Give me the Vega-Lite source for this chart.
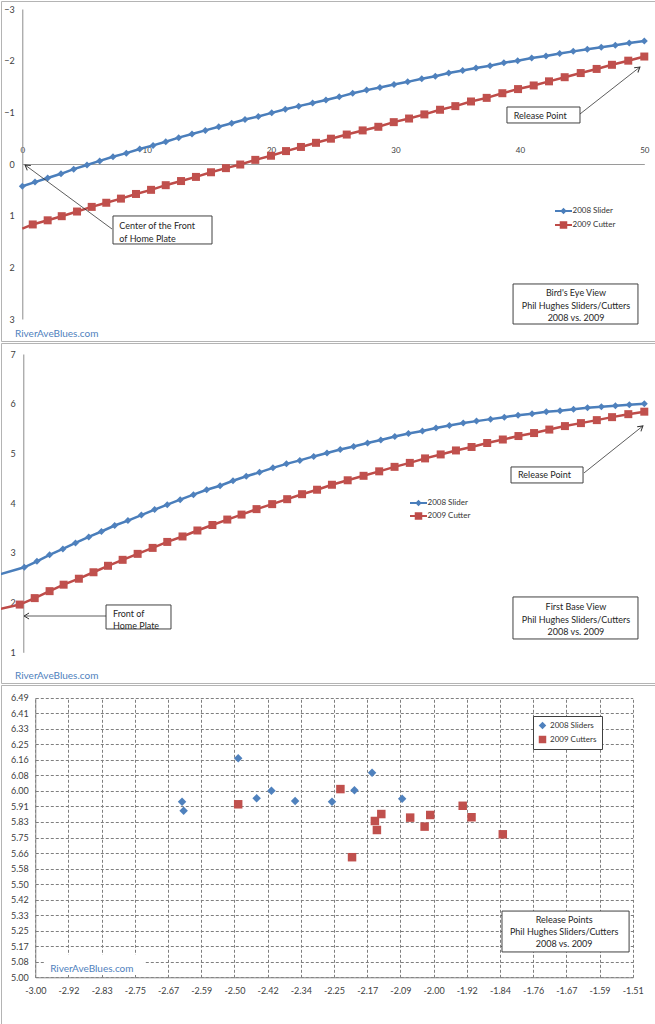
{
  "$schema": "https://vega.github.io/schema/vega-lite/v6.json",
  "background": "white",
  "padding": 0,
  "spacing": 0,
  "config": {
    "font": "Lato",
    "view": {"stroke": "#b4b4b4", "strokeWidth": 1},
    "axis": {"labelFont": "Lato", "labelFontSize": 9, "labelColor": "#404040", "domainColor": "#8c8c8c", "domainWidth": 1, "ticks": false, "tickSize": 0, "labelFlush": false, "labelOverlap": false, "grid": false},
    "legend": {"labelFont": "Lato", "labelFontSize": 8, "labelColor": "#333333", "labelLimit": 300},
    "text": {"font": "Lato"}
  },
  "resolve": {
    "scale": {"x": "independent", "y": "independent", "color": "independent", "shape": "independent"},
    "legend": {"color": "independent", "shape": "independent"}
  },
  "datasets": {
    "t1": [
      {"s":"2008 Slider","x":0,"y":0.43},{"s":"2008 Slider","x":1.02,"y":0.35},{"s":"2008 Slider","x":2.04,"y":0.27},{"s":"2008 Slider","x":3.11,"y":0.19},{"s":"2008 Slider","x":4.13,"y":0.1},{"s":"2008 Slider","x":5.2,"y":0.02},{"s":"2008 Slider","x":6.22,"y":-0.06},{"s":"2008 Slider","x":7.29,"y":-0.14},{"s":"2008 Slider","x":8.36,"y":-0.21},{"s":"2008 Slider","x":9.44,"y":-0.29},{"s":"2008 Slider","x":10.51,"y":-0.36},{"s":"2008 Slider","x":11.53,"y":-0.43},{"s":"2008 Slider","x":12.57,"y":-0.51},{"s":"2008 Slider","x":13.64,"y":-0.58},{"s":"2008 Slider","x":14.71,"y":-0.65},{"s":"2008 Slider","x":15.79,"y":-0.72},{"s":"2008 Slider","x":16.83,"y":-0.79},{"s":"2008 Slider","x":17.9,"y":-0.86},{"s":"2008 Slider","x":18.97,"y":-0.92},{"s":"2008 Slider","x":20.05,"y":-0.99},{"s":"2008 Slider","x":21.14,"y":-1.06},{"s":"2008 Slider","x":22.22,"y":-1.12},{"s":"2008 Slider","x":23.34,"y":-1.18},{"s":"2008 Slider","x":24.41,"y":-1.24},{"s":"2008 Slider","x":25.48,"y":-1.3},{"s":"2008 Slider","x":26.56,"y":-1.37},{"s":"2008 Slider","x":27.68,"y":-1.43},{"s":"2008 Slider","x":28.75,"y":-1.48},{"s":"2008 Slider","x":29.88,"y":-1.54},{"s":"2008 Slider","x":30.98,"y":-1.59},{"s":"2008 Slider","x":32.11,"y":-1.65},{"s":"2008 Slider","x":33.2,"y":-1.7},{"s":"2008 Slider","x":34.28,"y":-1.76},{"s":"2008 Slider","x":35.4,"y":-1.81},{"s":"2008 Slider","x":36.47,"y":-1.86},{"s":"2008 Slider","x":37.6,"y":-1.9},{"s":"2008 Slider","x":38.71,"y":-1.96},{"s":"2008 Slider","x":39.82,"y":-2.0},{"s":"2008 Slider","x":40.95,"y":-2.05},{"s":"2008 Slider","x":42.1,"y":-2.09},{"s":"2008 Slider","x":43.2,"y":-2.14},{"s":"2008 Slider","x":44.29,"y":-2.18},{"s":"2008 Slider","x":45.42,"y":-2.22},{"s":"2008 Slider","x":46.54,"y":-2.26},{"s":"2008 Slider","x":47.67,"y":-2.3},{"s":"2008 Slider","x":48.79,"y":-2.34},{"s":"2008 Slider","x":50,"y":-2.38},
      {"s":"2009 Cutter","x":-0.37,"y":1.25},{"s":"2009 Cutter","x":0.84,"y":1.17},{"s":"2009 Cutter","x":2.04,"y":1.09},{"s":"2009 Cutter","x":3.17,"y":1.01},{"s":"2009 Cutter","x":4.4,"y":0.92},{"s":"2009 Cutter","x":5.58,"y":0.83},{"s":"2009 Cutter","x":6.75,"y":0.75},{"s":"2009 Cutter","x":7.93,"y":0.67},{"s":"2009 Cutter","x":9.14,"y":0.58},{"s":"2009 Cutter","x":10.35,"y":0.5},{"s":"2009 Cutter","x":11.53,"y":0.41},{"s":"2009 Cutter","x":12.76,"y":0.33},{"s":"2009 Cutter","x":13.96,"y":0.25},{"s":"2009 Cutter","x":15.17,"y":0.16},{"s":"2009 Cutter","x":16.37,"y":0.08},{"s":"2009 Cutter","x":17.52,"y":0.01},{"s":"2009 Cutter","x":18.73,"y":-0.08},{"s":"2009 Cutter","x":19.99,"y":-0.16},{"s":"2009 Cutter","x":21.2,"y":-0.25},{"s":"2009 Cutter","x":22.4,"y":-0.33},{"s":"2009 Cutter","x":23.61,"y":-0.41},{"s":"2009 Cutter","x":24.81,"y":-0.49},{"s":"2009 Cutter","x":26.08,"y":-0.57},{"s":"2009 Cutter","x":27.36,"y":-0.65},{"s":"2009 Cutter","x":28.62,"y":-0.72},{"s":"2009 Cutter","x":29.86,"y":-0.81},{"s":"2009 Cutter","x":31.09,"y":-0.88},{"s":"2009 Cutter","x":32.32,"y":-0.96},{"s":"2009 Cutter","x":33.58,"y":-1.05},{"s":"2009 Cutter","x":34.81,"y":-1.12},{"s":"2009 Cutter","x":36.07,"y":-1.21},{"s":"2009 Cutter","x":37.33,"y":-1.28},{"s":"2009 Cutter","x":38.59,"y":-1.37},{"s":"2009 Cutter","x":39.85,"y":-1.45},{"s":"2009 Cutter","x":41.11,"y":-1.52},{"s":"2009 Cutter","x":42.34,"y":-1.6},{"s":"2009 Cutter","x":43.6,"y":-1.68},{"s":"2009 Cutter","x":44.89,"y":-1.76},{"s":"2009 Cutter","x":46.17,"y":-1.84},{"s":"2009 Cutter","x":47.4,"y":-1.92},{"s":"2009 Cutter","x":48.71,"y":-2.0},{"s":"2009 Cutter","x":50,"y":-2.08}
    ],
    "t2": [
      {"s":"2008 Slider","x":-2.5,"y":2.53},
      {"s":"2008 Slider","x":0,"y":2.71},{"s":"2008 Slider","x":1.02,"y":2.83},{"s":"2008 Slider","x":2.04,"y":2.96},{"s":"2008 Slider","x":3.11,"y":3.08},{"s":"2008 Slider","x":4.13,"y":3.2},{"s":"2008 Slider","x":5.2,"y":3.32},{"s":"2008 Slider","x":6.22,"y":3.43},{"s":"2008 Slider","x":7.29,"y":3.55},{"s":"2008 Slider","x":8.36,"y":3.65},{"s":"2008 Slider","x":9.44,"y":3.76},{"s":"2008 Slider","x":10.51,"y":3.87},{"s":"2008 Slider","x":11.53,"y":3.97},{"s":"2008 Slider","x":12.57,"y":4.07},{"s":"2008 Slider","x":13.64,"y":4.17},{"s":"2008 Slider","x":14.71,"y":4.27},{"s":"2008 Slider","x":15.79,"y":4.35},{"s":"2008 Slider","x":16.83,"y":4.45},{"s":"2008 Slider","x":17.9,"y":4.54},{"s":"2008 Slider","x":18.97,"y":4.62},{"s":"2008 Slider","x":20.05,"y":4.71},{"s":"2008 Slider","x":21.14,"y":4.79},{"s":"2008 Slider","x":22.22,"y":4.86},{"s":"2008 Slider","x":23.34,"y":4.94},{"s":"2008 Slider","x":24.41,"y":5.01},{"s":"2008 Slider","x":25.48,"y":5.08},{"s":"2008 Slider","x":26.56,"y":5.14},{"s":"2008 Slider","x":27.68,"y":5.21},{"s":"2008 Slider","x":28.75,"y":5.27},{"s":"2008 Slider","x":29.88,"y":5.34},{"s":"2008 Slider","x":30.98,"y":5.4},{"s":"2008 Slider","x":32.11,"y":5.45},{"s":"2008 Slider","x":33.2,"y":5.51},{"s":"2008 Slider","x":34.28,"y":5.56},{"s":"2008 Slider","x":35.4,"y":5.61},{"s":"2008 Slider","x":36.47,"y":5.65},{"s":"2008 Slider","x":37.6,"y":5.69},{"s":"2008 Slider","x":38.71,"y":5.73},{"s":"2008 Slider","x":39.82,"y":5.77},{"s":"2008 Slider","x":40.95,"y":5.8},{"s":"2008 Slider","x":42.1,"y":5.84},{"s":"2008 Slider","x":43.2,"y":5.86},{"s":"2008 Slider","x":44.29,"y":5.89},{"s":"2008 Slider","x":45.42,"y":5.92},{"s":"2008 Slider","x":46.54,"y":5.94},{"s":"2008 Slider","x":47.67,"y":5.96},{"s":"2008 Slider","x":48.79,"y":5.98},{"s":"2008 Slider","x":50,"y":6.0},
      {"s":"2009 Cutter","x":-2.5,"y":1.84},
      {"s":"2009 Cutter","x":-0.37,"y":1.96},{"s":"2009 Cutter","x":0.84,"y":2.09},{"s":"2009 Cutter","x":2.04,"y":2.23},{"s":"2009 Cutter","x":3.17,"y":2.36},{"s":"2009 Cutter","x":4.4,"y":2.48},{"s":"2009 Cutter","x":5.58,"y":2.61},{"s":"2009 Cutter","x":6.75,"y":2.74},{"s":"2009 Cutter","x":7.93,"y":2.86},{"s":"2009 Cutter","x":9.14,"y":2.98},{"s":"2009 Cutter","x":10.35,"y":3.1},{"s":"2009 Cutter","x":11.53,"y":3.22},{"s":"2009 Cutter","x":12.76,"y":3.33},{"s":"2009 Cutter","x":13.96,"y":3.45},{"s":"2009 Cutter","x":15.17,"y":3.56},{"s":"2009 Cutter","x":16.37,"y":3.67},{"s":"2009 Cutter","x":17.52,"y":3.77},{"s":"2009 Cutter","x":18.73,"y":3.88},{"s":"2009 Cutter","x":19.99,"y":3.98},{"s":"2009 Cutter","x":21.2,"y":4.08},{"s":"2009 Cutter","x":22.4,"y":4.18},{"s":"2009 Cutter","x":23.61,"y":4.27},{"s":"2009 Cutter","x":24.81,"y":4.37},{"s":"2009 Cutter","x":26.08,"y":4.46},{"s":"2009 Cutter","x":27.36,"y":4.55},{"s":"2009 Cutter","x":28.62,"y":4.64},{"s":"2009 Cutter","x":29.86,"y":4.73},{"s":"2009 Cutter","x":31.09,"y":4.81},{"s":"2009 Cutter","x":32.32,"y":4.9},{"s":"2009 Cutter","x":33.58,"y":4.98},{"s":"2009 Cutter","x":34.81,"y":5.06},{"s":"2009 Cutter","x":36.07,"y":5.13},{"s":"2009 Cutter","x":37.33,"y":5.21},{"s":"2009 Cutter","x":38.59,"y":5.28},{"s":"2009 Cutter","x":39.85,"y":5.35},{"s":"2009 Cutter","x":41.11,"y":5.41},{"s":"2009 Cutter","x":42.34,"y":5.48},{"s":"2009 Cutter","x":43.6,"y":5.55},{"s":"2009 Cutter","x":44.89,"y":5.61},{"s":"2009 Cutter","x":46.17,"y":5.67},{"s":"2009 Cutter","x":47.4,"y":5.73},{"s":"2009 Cutter","x":48.71,"y":5.79},{"s":"2009 Cutter","x":50,"y":5.84}
    ],
    "b1": [{"x":7.29,"x2":15.25,"y":1.006,"y2":1.548},{"x":38.96,"x2":44.83,"y":-1.103,"y2":-0.794},{"x":39.45,"x2":49.49,"y":2.322,"y2":3.097}],
    "tl1": [{"x":7.8,"y":1.2,"t":"Center of the Front"},{"x":7.8,"y":1.446,"t":"of Home Plate"},{"x":39.5,"y":-0.929,"t":"Release Point"}],
    "tc1": [{"x":44.51,"y":2.497,"t":"Bird's Eye View"},{"x":44.51,"y":2.742,"t":"Phil Hughes Sliders/Cutters"},{"x":44.51,"y":2.975,"t":"2008 vs. 2009"}],
    "w1": [{"x":0,"y":3.29,"t":"RiverAveBlues.com"}],
    "a1": [{"id":"A","x":0.22,"y":0.019,"x2":7.21,"y2":1.258},{"id":"B","x":49.65,"y":-1.877,"x2":44.83,"y2":-0.968}],
    "b2": [{"x":6.59,"x2":11.83,"y":1.952,"y2":1.469},{"x":39.25,"x2":45.06,"y":4.728,"y2":4.406},{"x":39.41,"x2":49.49,"y":2.113,"y2":1.268}],
    "tl2": [{"x":7.15,"y":1.771,"t":"Front of"},{"x":7.15,"y":1.535,"t":"Home Plate"},{"x":39.81,"y":4.567,"t":"Release Point"}],
    "tc2": [{"x":44.49,"y":1.911,"t":"First Base View"},{"x":44.49,"y":1.65,"t":"Phil Hughes Sliders/Cutters"},{"x":44.49,"y":1.408,"t":"2008 vs. 2009"}],
    "w2": [{"x":-0.75,"y":0.529,"t":"RiverAveBlues.com"}],
    "a2": [{"id":"D","x":-0.02,"y":1.73,"x2":6.59,"y2":1.73},{"id":"E","x":49.89,"y":5.553,"x2":45.14,"y2":4.608}],
    "p3": [
      {"s":"2008 Sliders","x":-2.634,"y":5.936},{"s":"2008 Sliders","x":-2.63,"y":5.888},{"s":"2008 Sliders","x":-2.494,"y":6.167},{"s":"2008 Sliders","x":-2.448,"y":5.954},{"s":"2008 Sliders","x":-2.411,"y":5.994},{"s":"2008 Sliders","x":-2.352,"y":5.94},{"s":"2008 Sliders","x":-2.26,"y":5.936},{"s":"2008 Sliders","x":-2.204,"y":5.997},{"s":"2008 Sliders","x":-2.16,"y":6.09},{"s":"2008 Sliders","x":-2.085,"y":5.952},
      {"s":"2009 Cutters","x":-2.494,"y":5.922},{"s":"2009 Cutters","x":-2.239,"y":6.003},{"s":"2009 Cutters","x":-2.21,"y":5.64},{"s":"2009 Cutters","x":-2.153,"y":5.833},{"s":"2009 Cutters","x":-2.148,"y":5.785},{"s":"2009 Cutters","x":-2.137,"y":5.87},{"s":"2009 Cutters","x":-2.065,"y":5.851},{"s":"2009 Cutters","x":-2.029,"y":5.803},{"s":"2009 Cutters","x":-2.015,"y":5.865},{"s":"2009 Cutters","x":-1.934,"y":5.914},{"s":"2009 Cutters","x":-1.912,"y":5.853},{"s":"2009 Cutters","x":-1.834,"y":5.762}
    ],
    "b3": [{"x":-1.836,"x2":-1.519,"y":5.353,"y2":5.135}],
    "wb3": [{"x":-2.978,"x2":-2.729,"y":5.119,"y2":5.012}],
    "tc3": [{"x":-1.681,"y":5.305,"t":"Release Points"},{"x":-1.681,"y":5.24,"t":"Phil Hughes Sliders/Cutters"},{"x":-1.681,"y":5.176,"t":"2008 vs. 2009"}],
    "w3": [{"x":-2.963,"y":5.044,"t":"RiverAveBlues.com"}]
  },
  "vconcat": [
    {
      "width": 654,
      "height": 340,
      "encoding": {
        "x": {"field": "x", "type": "quantitative", "scale": {"domain": [0, 50], "range": [21.3, 643.3], "clamp": true, "nice": false, "zero": false}, "axis": {"orient": "top", "offset": -163, "values": [0, 10, 20, 30, 40, 50], "labelPadding": 10, "labelFontSize": 8, "title": null, "domainColor": "#9a9a9a"}},
        "y": {"field": "y", "type": "quantitative", "scale": {"domain": [-3, 3], "range": [8, 318], "nice": false, "zero": false}, "axis": {"orient": "left", "offset": -21.3, "values": [-3, -2, -1, 0, 1, 2, 3], "labelPadding": 8, "title": null}}
      },
      "layer": [
        {"data": {"name": "t1"}, "transform": [{"filter": "datum.s == '2008 Slider'"}], "mark": {"type": "line", "strokeWidth": 2.5, "color": "#4A7EBB"}},
        {"data": {"name": "t1"}, "transform": [{"filter": "datum.s == '2009 Cutter'"}], "mark": {"type": "line", "strokeWidth": 2.5, "color": "#BE4B48"}},
        {"data": {"name": "t1"}, "transform": [{"filter": "datum.s == '2008 Slider' && datum.x >= 0"}], "mark": {"type": "point", "shape": "diamond", "filled": true, "fill": "#4F81BD", "size": 49, "opacity": 1, "strokeWidth": 0}},
        {"data": {"name": "t1"}, "transform": [{"filter": "datum.s == '2009 Cutter' && datum.x >= 0"}], "mark": {"type": "point", "shape": "square", "filled": true, "fill": "#C0504D", "size": 64, "opacity": 1, "strokeWidth": 0}},
        {"data": {"name": "t1"}, "transform": [{"filter": "datum.x > 999"}], "mark": {"type": "point", "filled": true, "opacity": 1},
          "encoding": {
            "color": {"field": "s", "type": "nominal", "scale": {"domain": ["2008 Slider", "2009 Cutter"], "range": ["#4A7EBB", "#BE4B48"]}, "legend": {"orient": "none", "legendX": 556.5, "legendY": 204, "title": null, "symbolSize": 100, "labelOffset": 3, "rowPadding": 4, "padding": 0}},
            "shape": {"field": "s", "type": "nominal", "scale": {"domain": ["2008 Slider", "2009 Cutter"], "range": ["M-1.7,-0.22H1.7V0.22H-1.7Z M0,-0.65L0.65,0L0,0.65L-0.65,0Z", "M-1.7,-0.22H1.7V0.22H-1.7Z M-0.75,-0.75H0.75V0.75H-0.75Z"]}, "legend": {"orient": "none", "legendX": 556.5, "legendY": 204, "title": null, "symbolSize": 100, "labelOffset": 3, "rowPadding": 4, "padding": 0}}
          }
        },
        {"data": {"name": "b1"}, "mark": {"type": "rect", "fill": "white", "stroke": "#404040", "strokeWidth": 1}, "encoding": {"x2": {"field": "x2"}, "y2": {"field": "y2"}}},
        {"data": {"name": "tl1"}, "mark": {"type": "text", "align": "left", "baseline": "middle", "fontSize": 9, "color": "#262626"}, "encoding": {"text": {"field": "t"}}},
        {"data": {"name": "tc1"}, "mark": {"type": "text", "align": "center", "baseline": "middle", "fontSize": 9, "color": "#262626"}, "encoding": {"text": {"field": "t"}}},
        {"data": {"name": "w1"}, "mark": {"type": "text", "align": "left", "baseline": "middle", "dx": -7.3, "fontSize": 10, "color": "#4F81BD"}, "encoding": {"text": {"field": "t"}}},
        {"data": {"name": "a1"}, "mark": {"type": "rule", "color": "#333333", "strokeWidth": 0.8}, "encoding": {"x2": {"field": "x2"}, "y2": {"field": "y2"}}},
        {"data": {"name": "a1"}, "transform": [{"filter": "datum.id == 'A'"}], "mark": {"type": "point", "shape": "M-2,-1.2L0,0L-2,1.2", "filled": false, "stroke": "#333333", "strokeWidth": 1, "size": 25, "angle": 216.3, "opacity": 1}},
        {"data": {"name": "a1"}, "transform": [{"filter": "datum.id == 'B'"}], "mark": {"type": "point", "shape": "M-2,-1.2L0,0L-2,1.2", "filled": false, "stroke": "#333333", "strokeWidth": 1, "size": 25, "angle": 321.9, "opacity": 1}}
      ]
    },
    {
      "width": 654,
      "height": 340,
      "encoding": {
        "x": {"field": "x", "type": "quantitative", "scale": {"domain": [0, 50], "range": [23.3, 643.3], "nice": false, "zero": false}, "axis": null},
        "y": {"field": "y", "type": "quantitative", "scale": {"domain": [1, 7], "range": [309.3, 11], "nice": false, "zero": false}, "axis": {"orient": "left", "offset": -22.3, "values": [1, 2, 3, 4, 5, 6, 7], "labelPadding": 8, "title": null}}
      },
      "layer": [
        {"data": {"name": "t2"}, "transform": [{"filter": "datum.s == '2008 Slider'"}], "mark": {"type": "line", "strokeWidth": 2.5, "color": "#4A7EBB", "clip": true}},
        {"data": {"name": "t2"}, "transform": [{"filter": "datum.s == '2009 Cutter'"}], "mark": {"type": "line", "strokeWidth": 2.5, "color": "#BE4B48", "clip": true}},
        {"data": {"name": "t2"}, "transform": [{"filter": "datum.s == '2008 Slider' && datum.x >= -0.5"}], "mark": {"type": "point", "shape": "diamond", "filled": true, "fill": "#4F81BD", "size": 49, "opacity": 1, "strokeWidth": 0}},
        {"data": {"name": "t2"}, "transform": [{"filter": "datum.s == '2009 Cutter' && datum.x >= -0.5"}], "mark": {"type": "point", "shape": "square", "filled": true, "fill": "#C0504D", "size": 64, "opacity": 1, "strokeWidth": 0}},
        {"data": {"name": "t2"}, "transform": [{"filter": "datum.x > 999"}], "mark": {"type": "point", "filled": true, "opacity": 1},
          "encoding": {
            "color": {"field": "s", "type": "nominal", "scale": {"domain": ["2008 Slider", "2009 Cutter"], "range": ["#4A7EBB", "#BE4B48"]}, "legend": {"orient": "none", "legendX": 411.5, "legendY": 154, "title": null, "symbolSize": 100, "labelOffset": 3, "rowPadding": 3, "padding": 0}},
            "shape": {"field": "s", "type": "nominal", "scale": {"domain": ["2008 Slider", "2009 Cutter"], "range": ["M-1.7,-0.22H1.7V0.22H-1.7Z M0,-0.65L0.65,0L0,0.65L-0.65,0Z", "M-1.7,-0.22H1.7V0.22H-1.7Z M-0.75,-0.75H0.75V0.75H-0.75Z"]}, "legend": {"orient": "none", "legendX": 411.5, "legendY": 154, "title": null, "symbolSize": 100, "labelOffset": 3, "rowPadding": 3, "padding": 0}}
          }
        },
        {"data": {"name": "b2"}, "mark": {"type": "rect", "fill": "white", "stroke": "#404040", "strokeWidth": 1}, "encoding": {"x2": {"field": "x2"}, "y2": {"field": "y2"}}},
        {"data": {"name": "tl2"}, "mark": {"type": "text", "align": "left", "baseline": "middle", "fontSize": 9, "color": "#262626"}, "encoding": {"text": {"field": "t"}}},
        {"data": {"name": "tc2"}, "mark": {"type": "text", "align": "center", "baseline": "middle", "fontSize": 9, "color": "#262626"}, "encoding": {"text": {"field": "t"}}},
        {"data": {"name": "w2"}, "mark": {"type": "text", "align": "left", "baseline": "middle", "fontSize": 10, "color": "#4F81BD"}, "encoding": {"text": {"field": "t"}}},
        {"data": {"name": "a2"}, "mark": {"type": "rule", "color": "#333333", "strokeWidth": 0.8}, "encoding": {"x2": {"field": "x2"}, "y2": {"field": "y2"}}},
        {"data": {"name": "a2"}, "transform": [{"filter": "datum.id == 'D'"}], "mark": {"type": "point", "shape": "M-2,-1.2L0,0L-2,1.2", "filled": false, "stroke": "#333333", "strokeWidth": 1, "size": 25, "angle": 180, "opacity": 1}},
        {"data": {"name": "a2"}, "transform": [{"filter": "datum.id == 'E'"}], "mark": {"type": "point", "shape": "M-2,-1.2L0,0L-2,1.2", "filled": false, "stroke": "#333333", "strokeWidth": 1, "size": 25, "angle": 321.5, "opacity": 1}}
      ]
    },
    {
      "width": 654,
      "height": 344,
      "encoding": {
        "x": {"field": "x", "type": "quantitative", "scale": {"domain": [-3, -1.51], "range": [34.3, 631.7], "nice": false, "zero": false},
          "axis": {"orient": "top", "offset": -292.3, "values": [-3.0, -2.9172, -2.8344, -2.7517, -2.6689, -2.5861, -2.5033, -2.4206, -2.3378, -2.255, -2.1722, -2.0894, -2.0067, -1.9239, -1.8411, -1.7583, -1.6756, -1.5928, -1.51],
            "labelExpr": "['-3.00','-2.92','-2.83','-2.75','-2.67','-2.59','-2.50','-2.42','-2.34','-2.25','-2.17','-2.09','-2.00','-1.92','-1.84','-1.76','-1.67','-1.59','-1.51'][round(datum.index*18)]",
            "labelPadding": -9, "labelBaseline": "top", "grid": true, "gridColor": "#7f7f7f", "gridDash": [3, 2], "gridWidth": 1, "title": null, "domainColor": "#868686"}},
        "y": {"field": "y", "type": "quantitative", "scale": {"domain": [5, 6.49], "range": [292.3, 12.7], "nice": false, "zero": false},
          "axis": {"orient": "left", "offset": -34.3, "values": [5.0, 5.0828, 5.1656, 5.2483, 5.3311, 5.4139, 5.4967, 5.5794, 5.6622, 5.745, 5.8278, 5.9106, 5.9933, 6.0761, 6.1589, 6.2417, 6.3244, 6.4072, 6.49],
            "labelExpr": "['5.00','5.08','5.17','5.25','5.33','5.42','5.50','5.58','5.66','5.75','5.83','5.91','6.00','6.08','6.16','6.25','6.33','6.41','6.49'][round(datum.index*18)]",
            "labelPadding": 7, "grid": true, "gridColor": "#7f7f7f", "gridDash": [3, 2], "gridWidth": 1, "title": null, "domainColor": "#868686"}}
      },
      "layer": [
        {"data": {"name": "wb3"}, "mark": {"type": "rect", "fill": "white", "strokeWidth": 0}, "encoding": {"x2": {"field": "x2"}, "y2": {"field": "y2"}}},
        {"data": {"name": "p3"}, "mark": {"type": "point", "filled": true, "opacity": 1, "size": 72, "strokeWidth": 0},
          "encoding": {
            "color": {"field": "s", "type": "nominal", "scale": {"domain": ["2008 Sliders", "2009 Cutters"], "range": ["#4F81BD", "#C0504D"]}, "legend": {"orient": "none", "legendX": 532, "legendY": 31, "title": null, "strokeColor": "#404040", "fillColor": "#ffffff", "padding": 5, "symbolSize": 56, "labelOffset": 3, "rowPadding": 5}},
            "shape": {"field": "s", "type": "nominal", "scale": {"domain": ["2008 Sliders", "2009 Cutters"], "range": ["diamond", "square"]}, "legend": {"orient": "none", "legendX": 532, "legendY": 31, "title": null, "strokeColor": "#404040", "fillColor": "#ffffff", "padding": 5, "symbolSize": 56, "labelOffset": 3, "rowPadding": 5}}
          }
        },
        {"data": {"name": "b3"}, "mark": {"type": "rect", "fill": "white", "stroke": "#404040", "strokeWidth": 1}, "encoding": {"x2": {"field": "x2"}, "y2": {"field": "y2"}}},
        {"data": {"name": "tc3"}, "mark": {"type": "text", "align": "center", "baseline": "middle", "fontSize": 9, "color": "#262626"}, "encoding": {"text": {"field": "t"}}},
        {"data": {"name": "w3"}, "mark": {"type": "text", "align": "left", "baseline": "middle", "fontSize": 10, "color": "#4F81BD"}, "encoding": {"text": {"field": "t"}}}
      ]
    }
  ]
}
